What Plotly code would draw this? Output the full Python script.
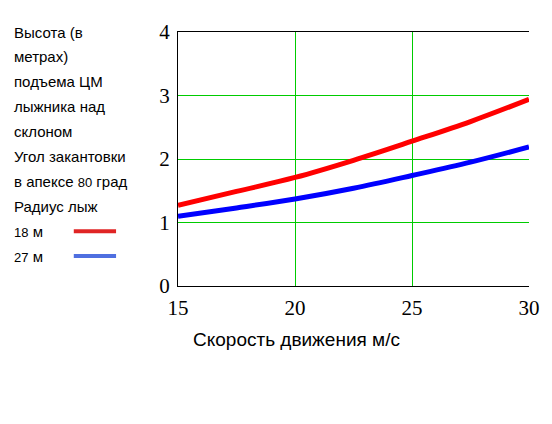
import plotly.graph_objects as go

# Скорость движения, м/с
speed = [15, 17.5, 20, 22.5, 25, 27.5, 30]
# Высота подъема ЦМ (м) для радиусов лыж 18 м и 27 м
h_18 = [1.27, 1.49, 1.71, 1.98, 2.28, 2.59, 2.94]
h_27 = [1.10, 1.23, 1.37, 1.54, 1.74, 1.95, 2.19]
x_ticks = [15, 20, 25, 30]
y_ticks = [0, 1, 2, 3, 4]

left_lines = [
    'Высота (в',
    'метрах)',
    'подъема ЦМ',
    'лыжника над',
    'склоном',
    'Угол закантовки',
    "в апексе <span style='font-size:13px'>80</span> град",
    'Радиус лыж',
]
legend_labels = ["<span style='font-size:13px'>18</span> м",
                 "<span style='font-size:13px'>27</span> м"]
legend_colors = ['#e02424', '#4f6fe0']

fig = go.Figure()
fig.add_trace(go.Scatter(x=speed, y=h_18, mode='lines',
                         line=dict(color='#ff0000', width=5, shape='spline', smoothing=1.0)))
fig.add_trace(go.Scatter(x=speed, y=h_27, mode='lines',
                         line=dict(color='#0000ff', width=5, shape='spline', smoothing=1.0)))

# страница имеет отступ 8px, поэтому фигура меньше окна
OFF = 8
W, H = 552 - OFF, 424 - OFF
L, R, T, B = 178 - OFF, 25 - OFF, 31 - OFF, 146 - OFF
ph = H - T - B


def py(pix):
    # пиксель окна по вертикали -> доля области графика
    return (H - B - (pix - OFF)) / ph


def px(pix):
    return (pix - OFF - L) / (W - L - R)


annotations = []
for i, txt in enumerate(left_lines):
    annotations.append(dict(xref='paper', yref='paper', x=px(9), y=py(31 + 25 * i),
                            text=txt, showarrow=False, xanchor='left', yanchor='middle',
                            font=dict(family='Arial, Liberation Sans', size=15, color='black')))
for i, (txt, col) in enumerate(zip(legend_labels, legend_colors)):
    yy = py(231 + 25 * i)
    annotations.append(dict(xref='paper', yref='paper', x=px(9), y=yy,
                            text=txt, showarrow=False, xanchor='left', yanchor='middle',
                            font=dict(family='Arial, Liberation Sans', size=15, color='black')))
    fig.add_shape(type='line', xref='paper', yref='paper', x0=px(72), x1=px(115),
                  y0=yy, y1=yy, line=dict(color=col, width=4))

annotations.append(dict(xref='paper', yref='paper', x=px(299), y=py(340),
                        text='Скорость движения м/с', showarrow=False,
                        xanchor='center', yanchor='middle',
                        font=dict(family='Arial, Liberation Sans', size=19, color='black')))

fig.update_layout(
    width=W, height=H,
    margin=dict(l=L, r=R, t=T, b=B, pad=0),
    plot_bgcolor='white', paper_bgcolor='white',
    showlegend=False,
    annotations=annotations,
    xaxis=dict(range=[15, 30], tickvals=x_ticks, showgrid=True, gridcolor='#00cc00',
               gridwidth=1, showline=True, linecolor='black', linewidth=1, mirror=True,
               ticks='', zeroline=False, ticklabelstandoff=3,
               tickfont=dict(family='Liberation Serif, Times New Roman', size=21, color='black')),
    yaxis=dict(range=[0, 4], tickvals=y_ticks, showgrid=True, gridcolor='#00cc00',
               gridwidth=1, showline=True, linecolor='black', linewidth=1,
               ticks='', zeroline=False, ticklabelstandoff=3,
               tickfont=dict(family='Liberation Serif, Times New Roman', size=21, color='black')),
)

fig.write_html('out.html')
